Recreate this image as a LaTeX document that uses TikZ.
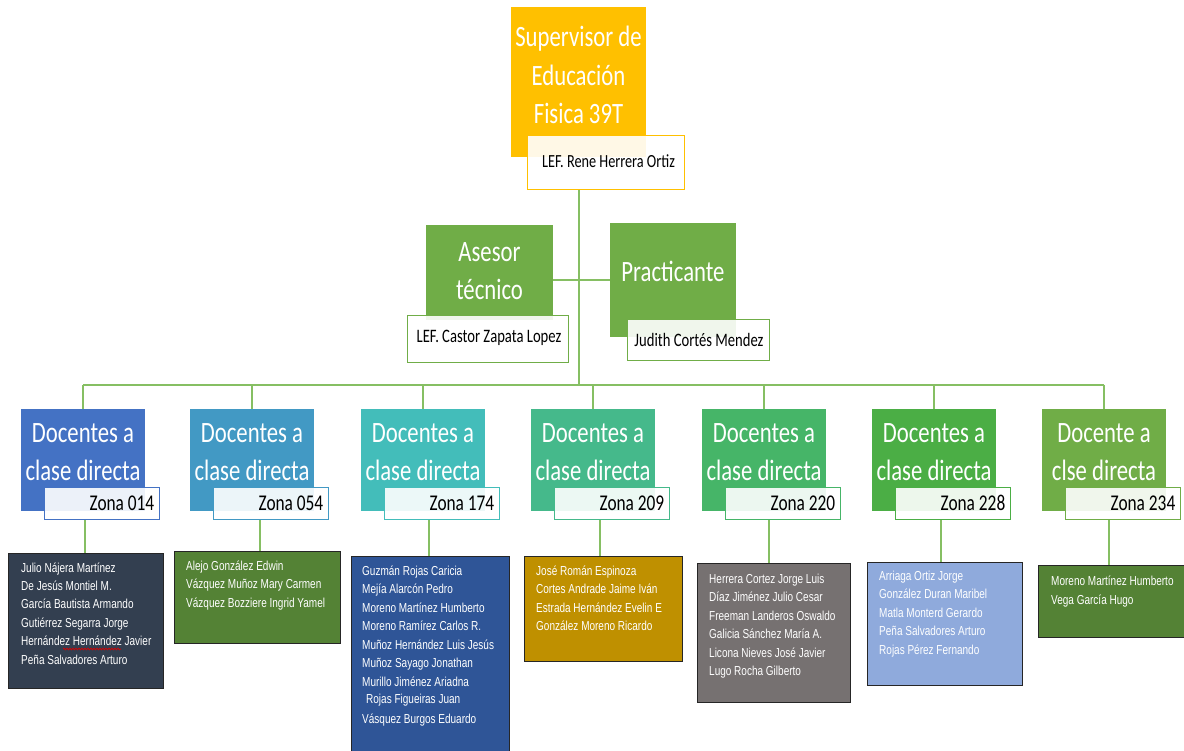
\documentclass[tikz,border=0pt]{standalone}
\usepackage{fontspec}
\setmainfont{Carlito}[FakeStretch=0.77]
\newfontfamily\namefont{Liberation Sans}[FakeStretch=0.77]
\usetikzlibrary{decorations.pathmorphing}

\definecolor{supcol}{HTML}{FFC000}
\definecolor{midcol}{HTML}{70AD47}
\definecolor{conncol}{HTML}{86BF63}
\definecolor{zc1}{HTML}{4472C4}
\definecolor{zc2}{HTML}{4299C4}
\definecolor{zc3}{HTML}{43BDBA}
\definecolor{zc4}{HTML}{45B98B}
\definecolor{zc5}{HTML}{46B568}
\definecolor{zc6}{HTML}{4BAE45}
\definecolor{zc7}{HTML}{70AD47}
\definecolor{lc1}{HTML}{333F50}
\definecolor{lc2}{HTML}{548235}
\definecolor{lc3}{HTML}{2F5597}
\definecolor{lc4}{HTML}{BF9000}
\definecolor{lc5}{HTML}{767171}
\definecolor{lc6}{HTML}{8FAADC}
\definecolor{lc7}{HTML}{548235}

\tikzset{
  rolebox/.style={fill=#1, draw=none, inner sep=0, anchor=north west},
  subbox/.style={draw=#1, fill=white, fill opacity=0.9, line width=0.9pt, inner sep=0, anchor=north west},
  listbox/.style={fill=#1, draw=black!85, line width=1.1pt, inner sep=0, anchor=north west},
  conn/.style={draw=conncol, line width=1.6pt},
  ttl/.style={text=white, font=\fontsize{29.5}{30}\selectfont, anchor=base, inner sep=0},
  sublbl/.style={text=black, font=\fontsize{19}{20}\selectfont, anchor=base, inner sep=0},
  zlbl/.style={text=black, font=\fontsize{22.5}{24}\selectfont, anchor=base east, inner sep=0},
  namelbl/.style={text=white, font=\namefont\fontsize{13}{15}\selectfont, anchor=base west, inner sep=0},
}

\begin{document}
\begin{tikzpicture}[x=1pt, y=-1pt]
\useasboundingbox (0,0) rectangle (1184,751);

% ---- supervisor ----
\node[rolebox=supcol, minimum width=135pt, minimum height=150pt] (sup) at (511,7) {};
\node[subbox=supcol, minimum width=157pt, minimum height=54pt] (supn) at (527,135) {};
\node[ttl] (sup1) at (578.5,47) {Supervisor de};
\node[ttl] (sup2) at (578.5,86) {Educación};
\node[ttl] (sup3) at (578.5,124) {Fisica 39T};
\node[sublbl, font=\fontsize{18.5}{20}\selectfont] (supt) at (608.5,168) {LEF. Rene Herrera Ortiz};

% ---- asesor and practicante ----
\node[rolebox=midcol, minimum width=127pt, minimum height=95pt] (ase) at (426,225) {};
\node[subbox=midcol, minimum width=161pt, minimum height=47pt] (asen) at (407,315) {};
\node[ttl] (ase1) at (489.5,262) {Asesor};
\node[ttl] (ase2) at (489.5,300) {técnico};
\node[sublbl] (aset) at (489,343) {LEF. Castor Zapata Lopez};

\node[rolebox=midcol, minimum width=126pt, minimum height=114pt] (pra) at (610,223) {};
\node[subbox=midcol, minimum width=142pt, minimum height=41pt] (pran) at (627,319) {};
\node[ttl] (pra1) at (673,282) {Practicante};
\node[sublbl] (prat) at (699,347) {Judith Cortés Mendez};

% ---- zone heads ----
\foreach \i/\x/\c/\la/\lb/\z in {
  1/21/zc1/Docentes a/clase directa/014,
  2/190/zc2/Docentes a/clase directa/054,
  3/361/zc3/Docentes a/clase directa/174,
  4/531/zc4/Docentes a/clase directa/209,
  5/702/zc5/Docentes a/clase directa/220,
  6/872/zc6/Docentes a/clase directa/228,
  7/1042/zc7/Docente a/clse directa/234} {
  \node[rolebox=\c, minimum width=124pt, minimum height=102pt] (t\i) at (\x,409) {};
  \node[subbox=\c, minimum width=115pt, minimum height=32pt] (z\i) at (\x+22.5,487) {};
  \node[ttl] (t\i a) at (\x+62,442) {\la};
  \node[ttl] (t\i b) at (\x+62,480) {\lb};
  \node[zlbl] (z\i t) at (\x+133.5,510) {Zona \z};
}

% ---- staff lists ----
\node[listbox=lc1, minimum width=155pt, minimum height=135pt] (l1) at (8,553) {};
\node[listbox=lc2, minimum width=166pt, minimum height=92pt] (l2) at (174,551) {};
\node[listbox=lc3, minimum width=158pt, minimum height=210pt] (l3) at (351,556) {};
\node[listbox=lc4, minimum width=158pt, minimum height=105pt] (l4) at (524,556) {};
\node[listbox=lc5, minimum width=153pt, minimum height=139pt] (l5) at (697,563) {};
\node[listbox=lc6, minimum width=155pt, minimum height=123pt] (l6) at (867,562) {};
\node[listbox=lc7, minimum width=160pt, minimum height=72pt] (l7) at (1038,565) {};

\foreach \t [count=\k] in {Julio Nájera Martínez, De Jesús Montiel M., García Bautista Armando,
  Gutiérrez Segarra Jorge, Hernández Hernández Javier, Peña Salvadores Arturo}
  \node[namelbl] (n1-\k) at (21,{572+18.4*(\k-1)}) {\t};
\draw[red!85!black, line width=0.7pt, decorate,
  decoration={snake, amplitude=0.9pt, segment length=3pt}] (63,649) -- (121,649);

\foreach \t [count=\k] in {Alejo González Edwin, Vázquez Muñoz Mary Carmen, Vázquez Bozziere Ingrid Yamel}
  \node[namelbl] (n2-\k) at (186,{570+18.5*(\k-1)}) {\t};

\foreach \t [count=\k] in {Guzmán Rojas Caricia, Mejía Alarcón Pedro, Moreno Martínez Humberto,
  Moreno Ramírez Carlos R., Muñoz Hernández Luis Jesús, Muñoz Sayago Jonathan, Murillo Jiménez Ariadna}
  \node[namelbl] (n3-\k) at (362,{575+18.5*(\k-1)}) {\t};
\node[namelbl] (n3-8) at (366,703) {Rojas Figueiras Juan};
\node[namelbl] (n3-9) at (362,723) {Vásquez Burgos Eduardo};

\foreach \t [count=\k] in {José Román Espinoza, Cortes Andrade Jaime Iván, Estrada Hernández Evelin E,
  González Moreno Ricardo}
  \node[namelbl] (n4-\k) at (536,{575+18.6*(\k-1)}) {\t};

\foreach \t [count=\k] in {Herrera Cortez Jorge Luis, Díaz Jiménez Julio Cesar, Freeman Landeros Oswaldo,
  Galicia Sánchez María A., Licona Nieves José Javier, Lugo Rocha Gilberto}
  \node[namelbl] (n5-\k) at (709,{583+18.5*(\k-1)}) {\t};

\foreach \t [count=\k] in {Arriaga Ortiz Jorge, González Duran Maribel, Matla Monterd Gerardo,
  Peña Salvadores Arturo, Rojas Pérez Fernando}
  \node[namelbl] (n6-\k) at (879,{580+18.6*(\k-1)}) {\t};

\foreach \t [count=\k] in {Moreno Martínez Humberto, Vega García Hugo}
  \node[namelbl] (n7-\k) at (1051,{585+19*(\k-1)}) {\t};

% ---- connectors ----
\coordinate (bus) at (579,385);
\coordinate (hl) at (579,280);
\draw[conn] (supn.south -| bus) -- (bus);
\draw[conn] (ase.east |- hl) -- (pra.west |- hl);
\draw[conn] (t1.north |- bus) -- (t7.north |- bus);
\foreach \i in {1,...,7}
  \draw[conn] (t\i.north |- bus) -- (t\i.north);

\coordinate (d1) at (85,0);
\coordinate (d2) at (260,0);
\coordinate (d3) at (429,0);
\coordinate (d4) at (600,0);
\coordinate (d5) at (769,0);
\coordinate (d6) at (941,0);
\coordinate (d7) at (1109,0);
\foreach \i in {1,...,7}
  \draw[conn] (z\i.south -| d\i) -- (l\i.north -| d\i);
\end{tikzpicture}
\end{document}
